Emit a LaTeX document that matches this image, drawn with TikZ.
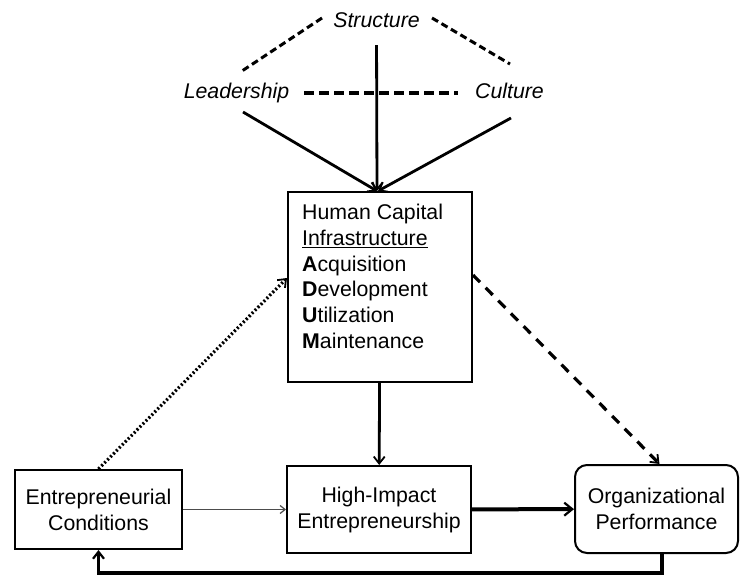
\documentclass[tikz,border=0pt]{standalone}
\usepackage{fontspec}
\setmainfont{Liberation Sans}
\usetikzlibrary{arrows.meta}

\begin{document}
\begin{tikzpicture}[x=1pt,y=-1pt,
  txt/.style={font=\fontsize{21.3}{25.7}\selectfont, inner sep=0pt},
  factor/.style={txt, font=\fontsize{21.3}{25.7}\selectfont\itshape,
    text height=15pt, text depth=3pt},
  box/.style={draw, line width=2pt, align=center, inner sep=0pt,
    font=\fontsize{21.3}{26}\selectfont},
  barb/.style={-{Straight Barb[length=7pt,width=11pt,line width=1.8pt]}},
  link/.style={line width=3pt, dash pattern=on 7pt off 4pt},
  influence/.style={barb, line width=2.8pt},
  mediated/.style={barb, line width=3.2pt, dash pattern=on 10pt off 8pt},
  enabling/.style={barb, line width=3.2pt, dash pattern=on 2pt off 2.2pt},
  weak/.style={-{Straight Barb[length=5pt,width=8pt,line width=1.2pt]},
    line width=1.6pt, black!70},
  strong/.style={-{Straight Barb[length=8pt,width=13pt,line width=2.2pt]},
    line width=4pt},
  loop/.style={-{Straight Barb[length=7pt,width=11pt,line width=2.2pt]},
    line width=3.2pt}
]
\useasboundingbox (0,0) rectangle (740,575);

% organizational factors
\node[factor, anchor=base] (S) at (376.5,28) {Structure};
\node[factor, anchor=base] (L) at (236.5,99) {Leadership};
\node[factor, anchor=base] (C) at (509.5,99) {Culture};

% main boxes
\node[draw, line width=2pt, minimum width=184pt, minimum height=190pt,
  inner sep=0pt] (hci) at (380,287) {};
\node[txt, anchor=north west, align=left] (hcitext) at (302,204)
  {Human Capital\\
   \underline{Infrastructure}\\
   \textbf{A}cquisition\\
   \textbf{D}evelopment\\
   \textbf{U}tilization\\
   \textbf{M}aintenance};

\node[box, minimum width=167pt, minimum height=79pt] (ec) at (98.5,509.5)
  {Entrepreneurial\\Conditions};
\node[box, minimum width=184pt, minimum height=87pt] (hie) at (379,509.5)
  {High-Impact\\Entrepreneurship};
\node[box, rounded corners=12pt, minimum width=163pt, minimum height=88pt]
  (op) at (656.5,509) {Organizational\\Performance};

% free ends of the factor links
\coordinate (sl1) at (322,18);
\coordinate (sl2) at (242,71);
\coordinate (sc1) at (432,18);
\coordinate (sc2) at (510,64);
\coordinate (lfoot) at (243,112);
\coordinate (cfoot) at (511,118);

% links among the factors
\draw[link] (sl1) -- (sl2);
\draw[link] (sc1) -- (sc2);
\draw[line width=3.4pt, dash pattern=on 10pt off 5pt, shorten <=15pt, shorten >=17pt]
  (L.east) -- (C.west);

% factors acting on the infrastructure
\draw[influence] (lfoot) -- ([xshift=-3pt]hci.north);
\draw[influence, shorten <=14pt] (S.south) -- ([xshift=-3pt]hci.north);
\draw[influence] (cfoot) -- ([xshift=-2pt]hci.north);

% flows between the boxes
\draw[influence] (hci) -- (hie);
\draw[enabling] (ec.north) -- ([yshift=9pt]hci.west);
\draw[mediated] ([yshift=12pt]hci.east) -- ([xshift=3pt]op.north);
\draw[weak] (ec) -- (hie);
\draw[strong] (hie) -- (op);
\draw[loop] ([xshift=5.5pt]op.south) -- ++(0,19) -| (ec.south);
\end{tikzpicture}
\end{document}
